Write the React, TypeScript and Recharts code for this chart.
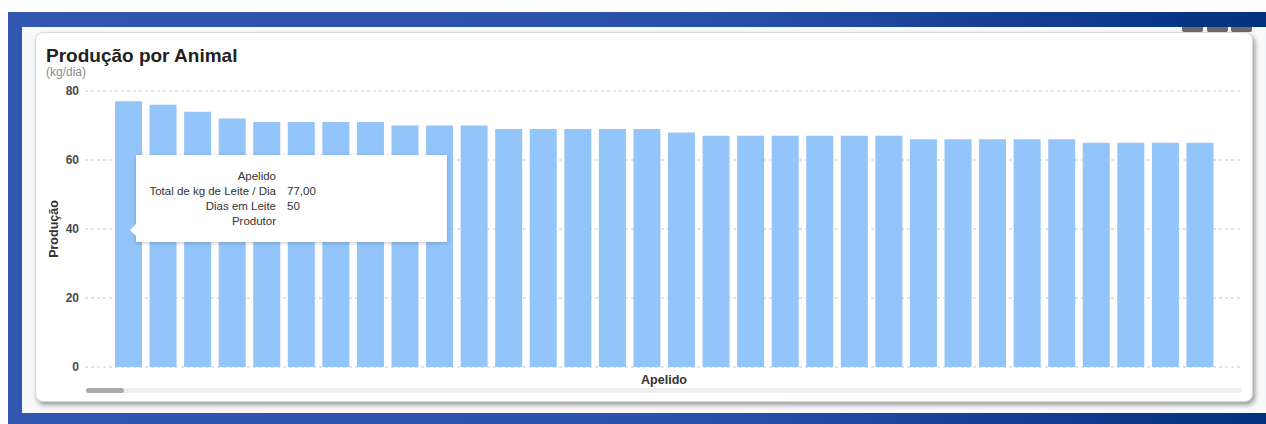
import { BarChart, Bar, XAxis, YAxis, CartesianGrid, Tooltip } from 'recharts';

const apelidos = [
  '1', '2', '3', '4', '5', '6', '7', '8', '9', '10', '11', '12', '13', '14', '15', '16',
  '17', '18', '19', '20', '21', '22', '23', '24', '25', '26', '27', '28', '29', '30', '31', '32',
];
const producao = [
  77, 76, 74, 72, 71, 71, 71, 71, 70, 70, 70, 69, 69, 69, 69, 69,
  68, 67, 67, 67, 67, 67, 67, 66, 66, 66, 66, 66, 65, 65, 65, 65,
];
const diasEmLeite = [50];
const yTicks = [0, 20, 40, 60, 80];

const FONT = '"Liberation Sans", Arial, sans-serif';
const BAR_BLUE = '#93c4fa';
const GRID = '#c9c9c9';

const chartData = apelidos.map((a, i) => ({
  apelido: a,
  producao: producao[i],
  dias: diasEmLeite[i],
}));

type TipProps = {
  active?: boolean;
  payload?: readonly { payload?: { apelido: string; producao: number; dias?: number } }[];
};

function TooltipBox(props: TipProps) {
  if (!props.active || !props.payload?.length) return null;
  const p = props.payload[0].payload;
  if (!p) return null;
  const rows: [string, string][] = [
    ['Apelido', ''],
    ['Total de kg de Leite / Dia', p.producao.toFixed(2).replace('.', ',')],
    ['Dias em Leite', p.dias != null ? String(p.dias) : ''],
    ['Produtor', ''],
  ];
  return (
    <div
      style={{
        position: 'relative',
        width: 311,
        height: 87,
        boxSizing: 'border-box',
        background: '#fff',
        boxShadow: '0 1px 4px rgba(0,0,0,0.22)',
        paddingTop: 14,
        fontFamily: FONT,
        fontSize: 11.5,
        color: '#333',
      }}
    >
      <div
        style={{
          position: 'absolute',
          left: -6,
          top: 69,
          width: 0,
          height: 0,
          borderTop: '6px solid transparent',
          borderBottom: '6px solid transparent',
          borderRight: '6px solid #fff',
        }}
      />
      {rows.map(([k, v]) => (
        <div key={k} style={{ display: 'flex', height: 15, lineHeight: '15px' }}>
          <div style={{ width: 140, textAlign: 'right' }}>{k}</div>
          <div style={{ marginLeft: 11 }}>{v}</div>
        </div>
      ))}
    </div>
  );
}

export default function App() {
  return (
    <div
      style={{
        position: 'absolute',
        left: 0,
        top: 0,
        width: 1266,
        height: 424,
        overflow: 'hidden',
        background: '#fff',
        fontFamily: FONT,
      }}
    >
      {/* blue frame */}
      <div
        style={{
          position: 'absolute',
          left: 8,
          top: 12,
          width: 1258,
          height: 412,
          background: 'linear-gradient(to right, #3257b1, #2a51aa 55%, #03307f)',
        }}
      />
      <div style={{ position: 'absolute', left: 22, top: 27, width: 1244, height: 386, background: '#f8f9fb' }} />

      {/* window buttons peeking above card */}
      {[1182, 1207, 1231].map((x) => (
        <div
          key={x}
          style={{
            position: 'absolute',
            left: x,
            top: 27,
            width: 21,
            height: 5,
            background: '#6a6a6a',
            borderRadius: '0 0 2px 2px',
          }}
        />
      ))}

      {/* card */}
      <div
        style={{
          position: 'absolute',
          left: 35,
          top: 32,
          width: 1218,
          height: 370,
          boxSizing: 'border-box',
          background: '#fff',
          border: '1px solid #d9d9d9',
          borderRadius: 8,
          boxShadow: '2px 3px 5px rgba(0,0,0,0.38)',
        }}
      />
      <div style={{ position: 'absolute', left: 46, top: 46, fontSize: 19, lineHeight: '19px', fontWeight: 700, color: '#222' }}>
        Produção por Animal
      </div>
      <div style={{ position: 'absolute', left: 46, top: 66, fontSize: 12, lineHeight: '12px', color: '#8a8a8a' }}>
        (kg/dia)
      </div>

      {/* scroll bar */}
      <div style={{ position: 'absolute', left: 86, top: 388, width: 1156, height: 5, background: '#eeeeee', borderRadius: 3 }} />
      <div style={{ position: 'absolute', left: 86, top: 388, width: 38, height: 5, background: '#a9a9a9', borderRadius: 3 }} />

      <div style={{ position: 'absolute', left: 0, top: 0 }}>
        <BarChart
          width={1266}
          height={424}
          data={chartData}
          margin={{ top: 91, right: 23, bottom: 35, left: 0 }}
          barSize={27}
        >
          <CartesianGrid vertical={false} stroke={GRID} strokeDasharray="3 3" />
          <XAxis
            dataKey="apelido"
            tick={false}
            tickLine={false}
            axisLine={false}
            height={22}
            padding={{ left: 26, right: 26 }}
            label={{
              value: 'Apelido',
              position: 'insideBottom',
              offset: 5,
              style: { fontFamily: FONT, fontSize: 12.5, fontWeight: 700, fill: '#333' },
            }}
          />
          <YAxis
            width={85}
            domain={[0, 80]}
            ticks={yTicks}
            tickLine={false}
            axisLine={false}
            tickSize={4}
            tickMargin={2}
            tick={{ fontFamily: FONT, fontSize: 12, fontWeight: 700, fill: '#4a4a4a' }}
            label={{
              value: 'Produção',
              angle: -90,
              position: 'insideLeft',
              offset: 54,
              style: { fontFamily: FONT, fontSize: 12.5, fontWeight: 700, fill: '#333', textAnchor: 'middle' },
            }}
          />
          <Tooltip
            active
            defaultIndex={0}
            cursor={false}
            position={{ x: 136, y: 155 }}
            content={TooltipBox}
            isAnimationActive={false}
            wrapperStyle={{ outline: 'none' }}
          />
          <Bar dataKey="producao" fill={BAR_BLUE} isAnimationActive={false} />
        </BarChart>
      </div>
    </div>
  );
}
